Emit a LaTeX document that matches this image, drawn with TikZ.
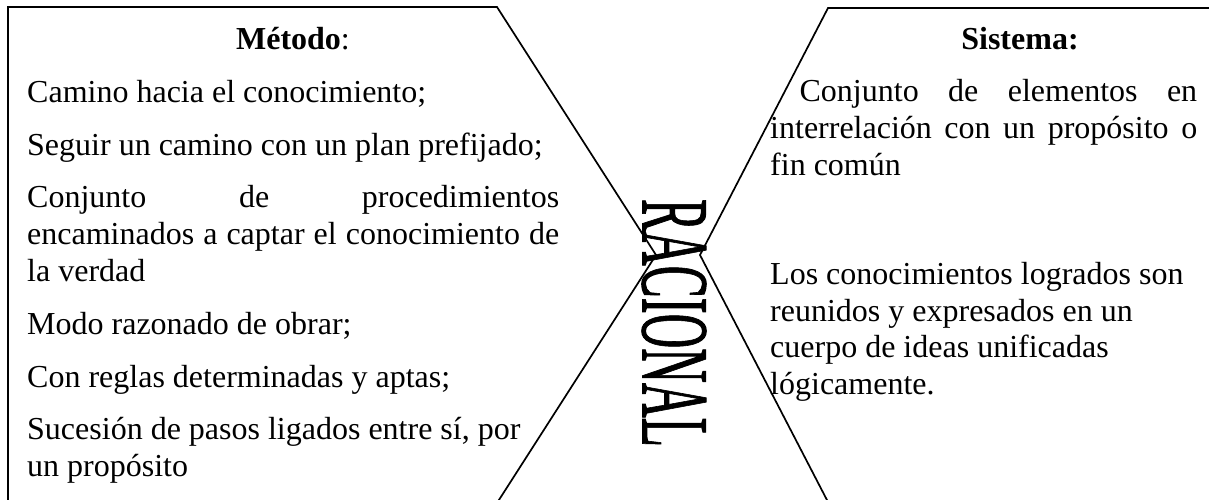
\documentclass[tikz,border=0pt]{standalone}
\usepackage{fontspec}
\setmainfont{Liberation Serif}
\newfontfamily\racfont[FakeBold=1.2]{Liberation Serif}
\tikzset{
  shapeline/.style={line width=1.7pt, line join=miter},
  txt/.style={anchor=base west, inner sep=0pt, font=\fontsize{32}{36.8}\selectfont},
  head/.style={anchor=base, inner sep=0pt, font=\fontsize{32}{36.8}\selectfont\bfseries},
  vert/.style={inner sep=0pt, rotate=-90, font=\racfont\fontsize{96}{96}\selectfont}
}
\begin{document}
\begin{tikzpicture}[x=1pt,y=1pt]
\useasboundingbox (0,0) rectangle (1209,-499);
\fill[white] (0,0) rectangle (1209,-499);
\begin{scope}
  \clip (0,0) rectangle (1209,-499);
  \draw[shapeline] (8,-503) -- (8,-7) -- (497,-7) -- (656,-255) -- (497,-503) -- cycle;
  \draw[shapeline] (1240,-8) -- (828,-8) -- (700,-255) -- (828,-502) -- (1240,-502);
\end{scope}
% left column
\node[head] (metodo) at (293,-49) {Método\textmd{:}};
\node[txt] (m1) at (27,-102) {Camino hacia el conocimiento;};
\node[txt] (m2) at (27,-155) {Seguir un camino con un plan prefijado;};
\node[txt] (m3) at (27,-207) {\makebox[532pt][s]{Conjunto de procedimientos}};
\node[txt] (m4) at (27,-244) {\makebox[532pt][s]{encaminados a captar el conocimiento de}};
\node[txt] (m5) at (27,-281) {la verdad};
\node[txt] (m6) at (27,-334) {Modo razonado de obrar;};
\node[txt] (m7) at (27,-387) {Con reglas determinadas y aptas;};
\node[txt] (m8) at (27,-439) {Sucesión de pasos ligados entre sí, por};
\node[txt] (m9) at (27,-476) {un propósito};
% right column
\node[head] (sistema) at (1020,-49) {Sistema:};
\node[txt] (s1) at (770,-101) {\makebox[427pt][s]{\mbox{}\ Conjunto de elementos en}};
\node[txt] (s2) at (770,-138) {\makebox[427pt][s]{interrelación con un propósito o}};
\node[txt] (s3) at (770,-175) {fin común};
\node[txt] (s4) at (770,-284) {Los conocimientos logrados son};
\node[txt] (s5) at (770,-321) {reunidos y expresados en un};
\node[txt] (s6) at (770,-357) {cuerpo de ideas unificadas};
\node[txt] (s7) at (770,-394) {lógicamente.};
% vertical word
\node[vert] (racional) at (674,-323) {\scalebox{0.5}[1]{RACIONAL}};
\end{tikzpicture}
\end{document}
